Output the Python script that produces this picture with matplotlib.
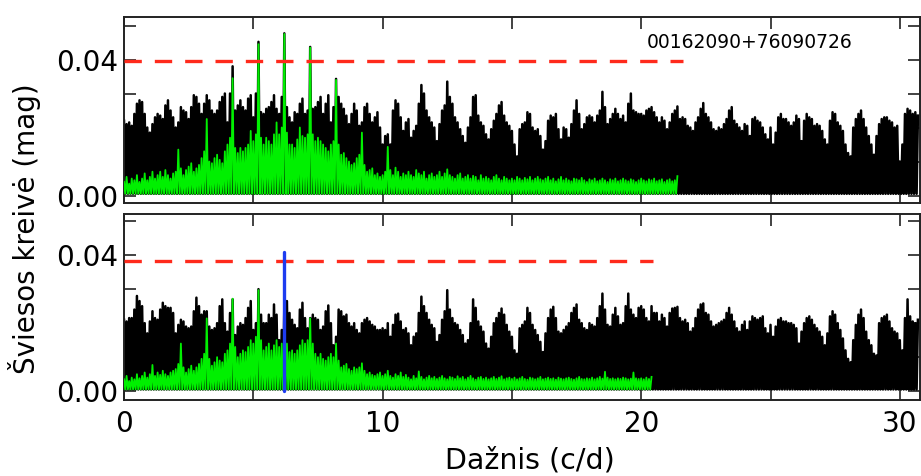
import numpy as np
import matplotlib
matplotlib.use("Agg")
import matplotlib.pyplot as plt
from matplotlib.ticker import FixedLocator, FixedFormatter

# Amplitude spectra sampled every 0.1 c/d, amplitudes in units of 1e-4 mag
freq_step = 0.1

# Upper panel: original data (black) and spectral window / filtered data (green)
top_black = [
    220, 210, 215, 205, 240, 270, 280, 275, 240, 200,
    185, 210, 230, 240, 235, 225, 265, 280, 250, 230,
    200, 215, 260, 250, 245, 225, 260, 295, 290, 270,
    240, 270, 295, 280, 250, 240, 250, 275, 290, 300,
    215, 300, 380, 250, 265, 280, 260, 250, 285, 295,
    230, 300, 452, 245, 240, 255, 260, 275, 295, 255,
    240, 290, 477, 260, 230, 215, 245, 240, 270, 285,
    240, 250, 437, 255, 260, 275, 290, 240, 270, 295,
    215, 260, 343, 290, 270, 255, 235, 210, 240, 270,
    250, 205, 215, 260, 270, 240, 215, 230, 245, 200,
    150, 175, 180, 150, 250, 280, 270, 230, 190, 215,
    225, 170, 190, 205, 270, 325, 300, 250, 230, 215,
    200, 160, 210, 250, 265, 335, 290, 270, 230, 215,
    195, 175, 155, 200, 230, 290, 295, 235, 215, 205,
    180, 165, 195, 220, 240, 265, 275, 235, 215, 205,
    190, 150, 115, 195, 210, 215, 245, 240, 200, 190,
    195, 175, 135, 160, 220, 235, 230, 240, 195, 165,
    200, 195, 170, 210, 250, 280, 240, 195, 210, 230,
    235, 230, 215, 235, 250, 305, 260, 210, 225, 240,
    255, 240, 225, 235, 215, 270, 300, 250, 245, 240,
    240, 235, 250, 255, 260, 245, 230, 215, 230, 220,
    195, 215, 240, 250, 262, 225, 230, 225, 205, 200,
    190, 215, 230, 255, 272, 240, 230, 215, 195, 190,
    200, 195, 210, 225, 250, 260, 220, 210, 200, 190,
    210, 205, 175, 225, 230, 220, 215, 200, 180, 165,
    200, 150, 185, 230, 240, 225, 225, 215, 205, 215,
    235, 225, 160, 220, 240, 230, 225, 205, 210, 205,
    190, 165, 150, 220, 245, 240, 215, 205, 190, 150,
    125, 115, 200, 225, 240, 250, 225, 200, 175, 150,
    120, 175, 210, 225, 230, 230, 220, 215, 200, 205,
    100, 150, 240, 255, 250, 240, 245, 235,
]

top_green = [
    40, 55, 35, 50, 45, 60, 40, 50, 65, 45,
    55, 70, 50, 60, 70, 55, 75, 60, 50, 65,
    70, 135, 80, 60, 75, 85, 95, 70, 80, 90,
    110, 130, 225, 100, 95, 110, 120, 105, 95, 130,
    150, 170, 345, 140, 125, 140, 130, 140, 150, 190,
    160, 180, 445, 170, 150, 170, 160, 150, 180, 215,
    180, 200, 475, 185, 150, 150, 140, 165, 200, 175,
    170, 180, 435, 180, 160, 170, 160, 150, 140, 130,
    150, 160, 340, 150, 120, 125, 110, 100, 90, 95,
    110, 120, 185, 90, 70, 75, 80, 60, 65, 55,
    60, 70, 143, 75, 60, 82, 70, 55, 65, 60,
    70, 60, 55, 75, 65, 60, 70, 50, 60, 65,
    55, 60, 70, 55, 65, 77, 60, 55, 50, 60,
    65, 50, 55, 60, 50, 58, 55, 45, 60, 50,
    55, 50, 45, 55, 60, 50, 45, 55, 50, 45,
    50, 45, 55, 50, 45, 52, 48, 55, 45, 50,
    55, 48, 45, 50, 55, 45, 50, 42, 48, 55,
    45, 50, 45, 42, 50, 48, 45, 52, 45, 40,
    48, 45, 50, 42, 45, 50, 45, 40, 48, 45,
    50, 42, 45, 50, 45, 42, 48, 45, 40, 45,
    50, 45, 42, 48, 45, 50, 42, 45, 48, 40,
    45, 48, 42, 45, 57,
]

# Lower panel: residuals after removing the main frequency
bot_black = [
    210, 205, 215, 215, 240, 280, 265, 250, 200, 170,
    205, 235, 215, 210, 240, 260, 250, 245, 245, 230,
    170, 195, 210, 205, 190, 185, 190, 235, 275, 250,
    225, 235, 235, 190, 180, 185, 200, 250, 270, 200,
    175, 230, 270, 165, 190, 200, 195, 215, 245, 265,
    180, 200, 300, 225, 200, 200, 225, 215, 255, 225,
    150, 180, 250, 265, 230, 210, 195, 185, 240, 260,
    215, 185, 215, 225, 215, 210, 180, 190, 235, 252,
    200, 135, 160, 240, 235, 220, 225, 200, 190, 200,
    180, 170, 200, 210, 215, 205, 195, 190, 180, 180,
    185, 180, 200, 160, 195, 225, 228, 205, 180, 185,
    170, 135, 160, 170, 230, 278, 250, 230, 210, 195,
    185, 145, 165, 210, 235, 297, 240, 215, 200, 195,
    180, 165, 140, 150, 200, 270, 245, 205, 190, 175,
    140, 125, 160, 200, 215, 230, 243, 225, 195, 175,
    160, 120, 110, 185, 195, 205, 245, 230, 195, 180,
    165, 145, 115, 170, 215, 240, 248, 215, 175, 170,
    180, 190, 200, 230, 245, 255, 210, 200, 185, 180,
    200, 195, 190, 215, 250, 287, 240, 195, 190, 225,
    245, 220, 195, 200, 250, 287, 240, 225, 215, 245,
    250, 240, 215, 205, 250, 230, 230, 205, 225, 215,
    190, 230, 243, 245, 248, 215, 205, 210, 200, 175,
    185, 215, 240, 255, 258, 230, 225, 205, 190, 195,
    200, 205, 210, 230, 245, 225, 205, 185, 175, 195,
    205, 180, 205, 220, 215, 210, 215, 220, 185, 170,
    195, 160, 190, 210, 215, 205, 205, 200, 200, 195,
    185, 140, 175, 200, 215, 220, 210, 195, 185, 175,
    160, 135, 170, 220, 235, 225, 200, 180, 155, 120,
    95, 85, 150, 195, 225, 240, 215, 175, 150, 135,
    110, 105, 200, 215, 220, 225, 205, 185, 175, 170,
    150, 120, 215, 270, 220, 205, 200, 210,
]

bot_green = [
    35, 45, 30, 40, 35, 50, 38, 45, 55, 40,
    50, 77, 45, 55, 48, 60, 50, 45, 55, 60,
    65, 80, 140, 70, 55, 65, 75, 60, 70, 80,
    95, 110, 214, 95, 75, 85, 100, 90, 85, 110,
    120, 140, 272, 130, 100, 110, 120, 115, 130, 150,
    140, 160, 297, 150, 120, 130, 140, 120, 135, 150,
    130, 140, 150, 140, 115, 120, 110, 120, 135, 150,
    140, 150, 214, 140, 110, 100, 110, 95, 90, 100,
    110, 100, 140, 90, 70, 75, 80, 65, 60, 70,
    65, 70, 82, 60, 50, 55, 48, 45, 50, 55,
    45, 50, 60, 45, 40, 50, 45, 55, 42, 48,
    40, 35, 45, 38, 58, 42, 35, 40, 45, 38,
    42, 36, 40, 45, 38, 35, 42, 40, 36, 44,
    38, 42, 35, 40, 45, 38, 34, 40, 42, 36,
    40, 35, 38, 42, 36, 40, 44, 35, 38, 40,
    36, 40, 35, 38, 42, 36, 34, 40, 38, 35,
    38, 42, 35, 37, 40, 36, 38, 34, 40, 37,
    35, 38, 40, 36, 34, 38, 42, 36, 35, 38,
    36, 40, 35, 38, 42, 37, 57, 40, 36, 38,
    35, 38, 36, 40, 38, 35, 37, 55, 38, 36,
    38, 35, 40, 36, 42,
]

amp_unit = 1e-4          # list values are in 0.1 mmag
noise_floor = 5          # lowest dips of the spectra between adjacent peaks

# Significance thresholds (red dashed) and the detected frequency (blue)
thresh_top, thresh_top_end = 0.0395, 21.6
thresh_bot, thresh_bot_end = 0.0383, 20.45
main_freq, main_amp = 6.19, 0.0408

star_id = "00162090+76090726"
xlabel = "Dažnis (c/d)"
ylabel = "Šviesos kreivė (mag)"
xticks = [0, 5, 10, 15, 20, 25, 30]
xticklabels = ["0", "", "10", "", "20", "", "30"]
yticks = [0.00, 0.01, 0.02, 0.03, 0.04, 0.05]
yticklabels = ["0.00", "", "", "", "0.04", ""]


def spectrum_xy(amps):
    """Join consecutive peaks through the noise floor between them."""
    a = np.asarray(amps, dtype=float) * amp_unit
    f = np.arange(len(a)) * freq_step
    x = np.empty(2 * len(a) - 1)
    y = np.empty(2 * len(a) - 1)
    x[0::2] = f
    y[0::2] = a
    x[1::2] = f[:-1] + freq_step / 2
    y[1::2] = noise_floor * amp_unit
    return x, y


W, H = 921, 476
fig = plt.figure(figsize=(W / 100, H / 100), dpi=100)
left, right = 124, 920
ax_top = fig.add_axes([left / W, 1 - 203 / H, (right - left) / W, 186 / H])
ax_bot = fig.add_axes([left / W, 1 - 400 / H, (right - left) / W, 186 / H])

black_c = "#000000"
green_c = "#00f000"
red_c = "#ff2a1c"
blue_c = "#1e3cf0"

panels = [
    (ax_top, top_black, top_green, thresh_top, thresh_top_end, (-0.0022, 0.0525)),
    (ax_bot, bot_black, bot_green, thresh_bot, thresh_bot_end, (-0.0026, 0.0521)),
]

for ax, blk, grn, thr, thr_end, ylim in panels:
    bx, by = spectrum_xy(blk)
    gx, gy = spectrum_xy(grn)
    ax.plot(bx, by, color=black_c, lw=1.8, zorder=2)
    ax.plot(gx, gy, color=green_c, lw=1.3, zorder=3)
    ax.plot([0, thr_end], [thr, thr], color=red_c, lw=2.4,
            dashes=(5.2, 3.9), zorder=4)
    ax.set_xlim(0, (right - left) / 25.86)
    ax.set_ylim(*ylim)
    ax.xaxis.set_major_locator(FixedLocator(xticks))
    ax.yaxis.set_major_locator(FixedLocator(yticks))
    ax.yaxis.set_major_formatter(FixedFormatter(yticklabels))
    ax.tick_params(axis="both", which="both", direction="in", length=8.5,
                   width=1.2, color="#222222", top=True, right=True,
                   labelsize=20, pad=4)
    for sp in ax.spines.values():
        sp.set_linewidth(1.4)
        sp.set_color("#222222")

ax_top.xaxis.set_major_formatter(FixedFormatter([""] * len(xticks)))
ax_bot.xaxis.set_major_formatter(FixedFormatter(xticklabels))
ax_bot.tick_params(axis="x", pad=7)

ax_bot.plot([main_freq, main_freq], [0, main_amp], color=blue_c, lw=2.4,
            solid_capstyle="round", zorder=5)

fig.text(750 / W, 1 - 42 / H, star_id, fontsize=13.5, ha="center", va="center")
fig.text(530 / W, 1 - 460 / H, xlabel, fontsize=20.5, ha="center", va="center")
fig.text(25 / W, 1 - 229 / H, ylabel, fontsize=20, rotation=90,
         ha="center", va="center")

fig.savefig("out.png", dpi=100)
